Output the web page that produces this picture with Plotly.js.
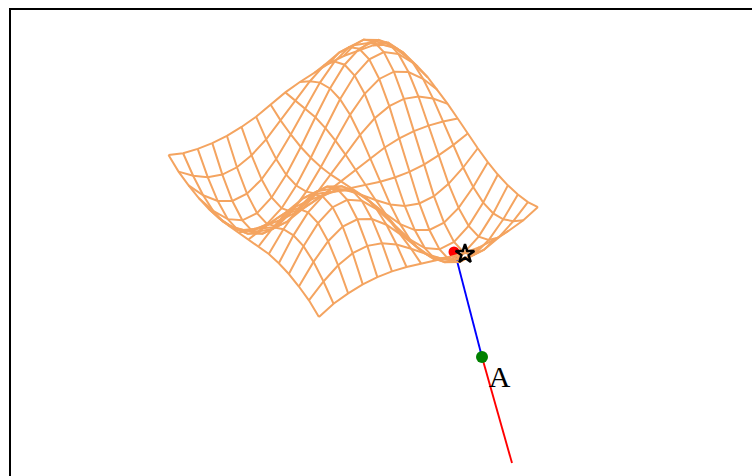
<!DOCTYPE html>
<html><head><meta charset="utf-8">
<script src="https://cdn.plot.ly/plotly-3.0.1.min.js"></script>
<style>html,body{margin:0;padding:0;background:#fff;overflow:hidden}</style>
</head><body><div id="chart" style="width:752px;height:476px"></div>
<script>
const surfaceHeights = [
[0,-5.6,-8.5,-10.1,-10.1,-8.6,-5.7,-1,4,7,9,11,11,9,7,3],
[-5.8,-17.3,-26,-30.8,-30.8,-26.1,-17.6,-6.1,6.5,18.6,27.6,32.6,32.6,27.5,18.3,7],
[-8.8,-26,-39.1,-46.4,-46.4,-39.4,-26.4,-9.2,9.7,28,41.7,49,49,41.4,27.5,9],
[-10.5,-30.8,-46.4,-54.9,-55,-46.7,-31.3,-10.9,11.5,33,49.4,58,58,49,32.6,11],
[-10.5,-30.8,-46.4,-55,-55,-46.7,-31.3,-10.9,11.5,33,49.4,58.2,58.2,49,32.6,11],
[-8.9,-26.1,-39.4,-46.7,-46.7,-39.6,-26.6,-9.3,9.8,28.2,41.9,49.4,49.4,41.7,27.6,9],
[-5.9,-17.6,-26.4,-31.3,-31.3,-26.6,-17.9,-6.2,6.6,18.9,28.2,33,33,28,18.6,6],
[-2,-5.9,-8.8,-10.5,-10.5,-8.9,-6,-2.1,2.3,6.6,9.8,11.5,11.5,9.7,6.5,2.2],
[2.1,6.2,9.2,11,11,9.3,6.3,2.2,-2.2,-6.4,-9.4,-11.1,-11.1,-9.3,-6.3,-2.1],
[6,17.7,26.7,31.6,31.6,26.9,18,6.3,-6.4,-18.2,-27.1,-31.9,-31.9,-26.9,-17.9,-6],
[9,26.4,39.8,47.1,47.1,40,26.9,9.3,-9.4,-27.1,-40.4,-47.6,-47.6,-40.2,-26.6,-9.1],
[10.6,31.1,46.8,55.5,55.5,47.1,31.6,11,-11.1,-31.9,-47.6,-56.1,-56.1,-47.3,-31.4,-10.7],
[10.6,31.1,46.8,55.4,55.5,47.1,31.6,11,-11.1,-31.9,-47.6,-56.1,-56.1,-47.3,-31.4,-10.7],
[8.9,26.2,39.5,46.8,46.8,39.8,26.7,9.2,-9.3,-26.9,-40.2,-47.3,-47.3,-39.9,-26.5,-9],
[5.9,17.4,26.2,31,31,26.4,17.7,6.2,-6.3,-17.9,-26.6,-31.4,-31.4,-26.5,-17.6,-5.9],
[0,5.9,8.9,10.6,10.6,9,6,2.1,-2.1,-6,-9.1,-10.7,-10.7,-9,-5.9,0]
];
// view of the surface on the page-sized axes
const origin = [168.5, 155];
const stepI = [14.6, -7.33];
const stepJ = [10.03, 10.8];

const redLineX = [482, 512], redLineY = [357, 463];
const blueLineX = [455, 482], blueLineY = [253, 357];
const redDotX = [454], redDotY = [252];
const greenDotX = [482], greenDotY = [357];
const starX = [465], starY = [254];
const labelX = [499.5], labelY = [379], labelText = ['A'];

function px(i,j){return origin[0]+stepI[0]*i+stepJ[0]*j;}
function py(i,j){return origin[1]+stepI[1]*i+stepJ[1]*j-surfaceHeights[j][i];}

const traces = [];
traces.push({x:redLineX,y:redLineY,mode:'lines',line:{color:'#ff0000',width:1.9}});
traces.push({x:blueLineX,y:blueLineY,mode:'lines',line:{color:'#0000ff',width:1.9}});
traces.push({x:redDotX,y:redDotY,mode:'markers',marker:{color:'#ff0000',size:11}});
const mesh = {color:'#f4a460',width:2};
const n = surfaceHeights.length;
for(let j=0;j<n;j++){
  const xs=[],ys=[];
  for(let i=0;i<n;i++){xs.push(px(i,j));ys.push(py(i,j));}
  traces.push({x:xs,y:ys,mode:'lines',line:mesh});
}
for(let i=0;i<n;i++){
  const xs=[],ys=[];
  for(let j=0;j<n;j++){xs.push(px(i,j));ys.push(py(i,j));}
  traces.push({x:xs,y:ys,mode:'lines',line:mesh});
}
traces.push({x:greenDotX,y:greenDotY,mode:'markers',marker:{color:'#008000',size:12}});
traces.push({x:starX,y:starY,mode:'markers',marker:{symbol:'star-open',size:14,color:'#000',line:{color:'#000',width:2.4}}});
traces.push({x:labelX,y:labelY,mode:'text',text:labelText,textposition:'middle center',
  textfont:{family:'Liberation Serif',size:30,color:'#000'}});

const layout = {
  width:752,height:476,showlegend:false,
  paper_bgcolor:'#fff',plot_bgcolor:'#fff',
  margin:{l:11,r:0,t:10,b:0,pad:0},
  xaxis:{range:[11,752],side:'top',showgrid:false,zeroline:false,showticklabels:false,ticks:'',showline:true,linecolor:'#000',linewidth:1.6},
  yaxis:{range:[476,10],showgrid:false,zeroline:false,showticklabels:false,ticks:'',showline:true,linecolor:'#000',linewidth:1.6}
};
Plotly.newPlot('chart',traces,layout,{displayModeBar:false,staticPlot:true});
</script></body></html>
